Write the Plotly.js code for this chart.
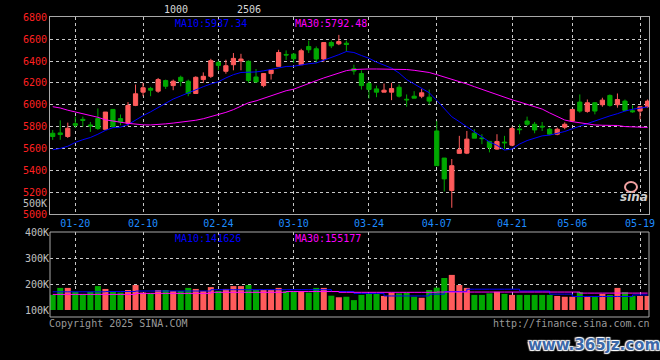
<!DOCTYPE html>
<html><head><meta charset="utf-8">
<script src="https://cdn.plot.ly/plotly-3.0.1.min.js"></script>
<style>html,body{margin:0;padding:0;background:#000;}#chart{width:660px;height:360px;}</style>
</head><body><div id="chart"></div>
<script>
const dates = ['01-15','01-16','01-17','01-20','01-21','01-22','01-23','01-24','01-27','02-05',
'02-06','02-07','02-10','02-11','02-12','02-13','02-14','02-17','02-18','02-19',
'02-20','02-21','02-24','02-25','02-26','02-27','02-28','03-03','03-04','03-05',
'03-06','03-07','03-10','03-11','03-12','03-13','03-14','03-17','03-18','03-19',
'03-20','03-21','03-24','03-25','03-26','03-27','03-28','03-31','04-01','04-02',
'04-03','04-07','04-08','04-09','04-10','04-11','04-14','04-15','04-16','04-17',
'04-18','04-21','04-22','04-23','04-24','04-25','04-28','04-29','04-30','05-06',
'05-07','05-08','05-09','05-12','05-13','05-14','05-15','05-16','05-19','05-20'];
const open = [5739,5742,5709,5827,5866,5815,5873,5775,5957,5873,
5830,5994,6115,6150,6124,6221,6175,6251,6215,6103,
6230,6260,6387,6306,6366,6400,6397,6254,6175,6285,
6351,6460,6463,6366,6533,6512,6418,6569,6557,6563,
6330,6285,6194,6145,6115,6115,6160,6050,6078,6078,
6069,5760,5512,5215,5555,5557,5739,5696,5664,5594,
5658,5630,5778,5851,5821,5803,5776,5730,5794,5851,
6024,5939,6018,6000,6085,6000,6033,5945,5942,5982];
const high = [5769,5857,5836,5891,5891,5842,5966,5933,5960,5911,
6024,6185,6200,6164,6245,6230,6230,6266,6230,6260,
6296,6420,6403,6412,6473,6466,6406,6327,6290,6321,
6503,6497,6473,6512,6587,6533,6569,6587,6639,6587,
6366,6315,6215,6175,6194,6200,6185,6094,6124,6145,
6139,5851,5512,5503,5715,5760,5776,5730,5669,5730,
5715,5800,5821,5891,5842,5842,5791,5791,5839,5960,
6094,6048,6024,6064,6094,6103,6048,5994,5988,6048];
const low = [5678,5679,5696,5787,5800,5751,5769,5775,5790,5812,
5805,5987,6078,6078,6109,6145,6133,6169,6078,6100,
6200,6245,6315,6284,6315,6315,6200,6200,6160,6230,
6351,6410,6382,6366,6473,6382,6390,6518,6545,6487,
6275,6139,6057,6069,6115,6042,6066,5982,6060,6060,
6003,5442,5206,5057,5555,5548,5694,5639,5564,5587,
5594,5620,5730,5806,5739,5760,5721,5721,5776,5842,
5927,5927,5912,5982,5982,5973,5940,5927,5866,5973];
const close = [5709,5727,5785,5812,5857,5806,5782,5933,5800,5842,
5993,6100,6155,6133,6230,6169,6215,6215,6103,6251,
6260,6403,6360,6357,6424,6418,6221,6209,6285,6318,
6478,6455,6421,6494,6503,6418,6569,6539,6578,6551,
6309,6175,6139,6115,6133,6148,6078,6045,6060,6109,
6033,5442,5321,5442,5588,5685,5694,5690,5609,5664,
5652,5782,5772,5821,5769,5797,5730,5776,5821,5957,
5942,6018,5942,6042,5994,6048,5948,5936,5982,6033];
const ma10 = [5588,5600,5620,5655,5680,5700,5730,5765,5790,5795,
5818,5860,5900,5935,5973,6015,6052,6080,6110,6140,
6165,6190,6210,6245,6275,6295,6297,6300,6310,6325,
6340,6350,6352,6365,6375,6382,6405,6430,6458,6487,
6478,6450,6425,6390,6362,6335,6290,6230,6190,6150,
6110,6040,5965,5890,5845,5800,5752,5705,5660,5628,
5585,5595,5640,5672,5695,5715,5722,5735,5755,5780,
5805,5830,5852,5876,5898,5918,5942,5958,5972,5980];
const ma30 = [5982,5970,5950,5935,5920,5905,5885,5862,5848,5840,
5830,5822,5816,5815,5818,5825,5832,5840,5848,5858,
5872,5890,5905,5930,5955,5985,6018,6035,6060,6085,
6110,6128,6142,6170,6195,6220,6245,6266,6292,6312,
6322,6327,6327,6327,6327,6327,6327,6322,6315,6305,
6295,6275,6255,6232,6210,6190,6165,6140,6115,6090,
6068,6045,6025,6005,5980,5960,5925,5890,5860,5845,
5835,5825,5815,5812,5812,5810,5800,5797,5792,5792];
const volume = [158000,185000,185000,170000,162000,170000,192000,181000,170000,167000,
177000,196000,167000,164000,177000,177000,173000,173000,185000,181000,
173000,188000,173000,181000,192000,192000,196000,177000,177000,177000,
185000,173000,173000,173000,167000,185000,185000,155000,149000,151000,
138000,158000,162000,162000,154000,167000,164000,167000,151000,147000,
177000,186000,223000,235000,196000,185000,158000,158000,164000,170000,
162000,158000,158000,158000,158000,158000,158000,154000,151000,151000,
169000,151000,151000,162000,158000,185000,169000,154000,154000,154000];
const volMa10 = [170000,170000,170000,170000,170000,170000,170000,171000,171000,171000,
171000,173000,173000,173000,173000,173000,173000,173000,173000,173000,
173000,178000,178000,178000,178000,178000,178000,178000,178000,178000,
178000,178000,178000,178000,178000,178000,178000,171000,171000,171000,
164000,164000,164000,164000,154000,154000,154000,154000,154000,154000,
161000,161000,171000,171000,171000,180000,180000,180000,180000,180000,
180000,180000,173000,173000,173000,173000,161000,161000,161000,152000,
152000,152000,152000,152000,152000,152000,152000,158000,158000,158000];
const volMa30 = [160000,160000,160000,160000,160000,160000,160000,160000,160000,160000,
160000,164000,164000,164000,164000,164000,164000,164000,164000,164000,
164000,168000,168000,168000,168000,168000,168000,168000,168000,168000,
168000,171000,171000,171000,171000,171000,171000,171000,168000,168000,
168000,168000,168000,168000,168000,168000,168000,168000,168000,168000,
168000,169000,169000,169000,169000,169000,169000,169000,169000,169000,
169000,169000,169000,169000,169000,169000,169000,169000,169000,169000,
165000,165000,165000,165000,165000,165000,165000,165000,165000,165000];
const tickDates = ['01-20','02-10','02-24','03-10','03-24','04-07','04-21','05-06','05-19'];
const priceTicks = [5000,5200,5400,5600,5800,6000,6200,6400,6600,6800];
const priceTickText = ['5000','5200','5400','5600','5800','6000','6200','6400','6600','6800'];
const volTicks = [100000,200000,300000,400000];
const volTickText = ['100K','200K','300K','400K'];

const UP = '#ff5b5b', DOWN = '#00a800', BLUE = '#0000ff', MAG = '#ff00ff';
const GRID = '#c8c8c8', FRAME = '#a8a8a8';
const MONO = 'DejaVu Sans Mono';
const W = 660, H = 360;
const px = v => v / W, py = v => 1 - v / H;

const volColors = close.map((c, i) => c >= open[i] ? UP : DOWN);

const traces = [
  {type:'candlestick', x:dates, open:open, high:high, low:low, close:close, xaxis:'x', yaxis:'y',
   increasing:{line:{color:UP, width:1}, fillcolor:UP},
   decreasing:{line:{color:DOWN, width:1}, fillcolor:DOWN},
   whiskerwidth:0, hoverinfo:'skip'},
  {type:'scatter', mode:'lines', x:dates, y:ma10, xaxis:'x', yaxis:'y', line:{color:BLUE, width:1}, hoverinfo:'skip'},
  {type:'scatter', mode:'lines', x:dates, y:ma30, xaxis:'x', yaxis:'y', line:{color:MAG, width:1}, hoverinfo:'skip'},
  {type:'bar', x:dates, y:volume, xaxis:'x2', yaxis:'y2', marker:{color:volColors, line:{width:0}}, hoverinfo:'skip'},
  {type:'scatter', mode:'lines', x:dates, y:volMa10, xaxis:'x2', yaxis:'y2', line:{color:BLUE, width:1, shape:'hv'}, hoverinfo:'skip'},
  {type:'scatter', mode:'lines', x:dates, y:volMa30, xaxis:'x2', yaxis:'y2', line:{color:MAG, width:1, shape:'hv'}, hoverinfo:'skip'}
];

const xr = [-0.36, 79.19];
const common = {showgrid:true, gridcolor:GRID, griddash:'dot', gridwidth:1, zeroline:false, fixedrange:true, ticks:''};

function ann(text, x, y, color, xanchor, extra) {
  return Object.assign({text:text, x:px(x), y:py(y), xref:'paper', yref:'paper', xanchor:xanchor, yanchor:'middle',
    showarrow:false, borderpad:0, font:{family:MONO, size:10, color:color}}, extra || {});
}

const layout = {
  width:W, height:H, margin:{l:0, r:0, t:0, b:0},
  paper_bgcolor:'#000', plot_bgcolor:'#000', showlegend:false,
  boxgap:0.2, bargap:0.2,
  font:{family:MONO, size:10, color:'#c0c0c0'},
  xaxis:Object.assign({}, common, {domain:[px(50), px(649)], anchor:'y', type:'category', range:xr,
    rangeslider:{visible:false}, tickmode:'array', tickvals:tickDates, ticktext:tickDates,
    showline:true, mirror:true, linecolor:FRAME, linewidth:1,
    tickfont:{family:MONO, size:10, color:'#1e8cff'}}),
  yaxis:Object.assign({}, common, {domain:[py(214), py(17.3)], anchor:'x', range:[5000, 6800],
    tickmode:'array', tickvals:priceTicks, ticktext:priceTickText,
    showline:true, mirror:true, linecolor:FRAME, linewidth:1,
    tickfont:{family:MONO, size:10, color:'#ff2020'}}),
  xaxis2:Object.assign({}, common, {domain:[px(50), px(649)], anchor:'y2', type:'category', matches:'x', range:xr,
    tickmode:'array', tickvals:tickDates, showticklabels:false, showline:false}),
  yaxis2:Object.assign({}, common, {domain:[py(310), py(232)], anchor:'x2', range:[100000, 400000],
    tickmode:'array', tickvals:volTicks, ticktext:volTickText, showline:false,
    tickfont:{family:MONO, size:10, color:'#c0c0c0'}}),
  shapes:[
    {type:'rect', xref:'paper', yref:'paper', x0:px(50), x1:px(649), y0:py(317), y1:py(232),
     line:{color:FRAME, width:1}, fillcolor:'rgba(0,0,0,0)'},
    {type:'circle', xref:'paper', yref:'paper', x0:px(625), x1:px(637), y0:py(192), y1:py(182),
     line:{color:'#f0a0a0', width:2}, fillcolor:'rgba(0,0,0,0)'}
  ],
  annotations:[
    ann('1000', 176.5, 9.5, '#d8d8d8', 'center'),
    ann('2506', 249, 9.5, '#d8d8d8', 'center'),
    ann('MA10:5937.34', 174, 23, BLUE, 'left'),
    ann('MA30:5792.48', 294, 23, MAG, 'left'),
    ann('500K', 48, 203, '#c0c0c0', 'right'),
    ann('MA10:141626', 174, 238.5, BLUE, 'left'),
    ann('MA30:155177', 294, 238.5, MAG, 'left'),
    ann('Copyright 2025 SINA.COM', 48, 323, '#9a9a9a', 'left'),
    ann('http://finance.sina.com.cn', 651, 323, '#9a9a9a', 'right'),
    ann('sina', 634, 197, '#c8c8c8', 'center', {font:{family:'DejaVu Sans', size:12, color:'#cfcfcf', weight:'bold', style:'italic'}}),
    ann('www.365jz.com', 594, 345, '#3d68a8', 'center', {font:{family:'DejaVu Sans', size:15, color:'#3d68a8', weight:'bold',
      shadow:'1px 1px 1px #ffffff, -1px -1px 1px #ffffff, 1px -1px 1px #ffffff, -1px 1px 1px #ffffff'}})
  ]
};

Plotly.newPlot('chart', traces, layout, {staticPlot:true, displayModeBar:false});
</script>
</body></html>
